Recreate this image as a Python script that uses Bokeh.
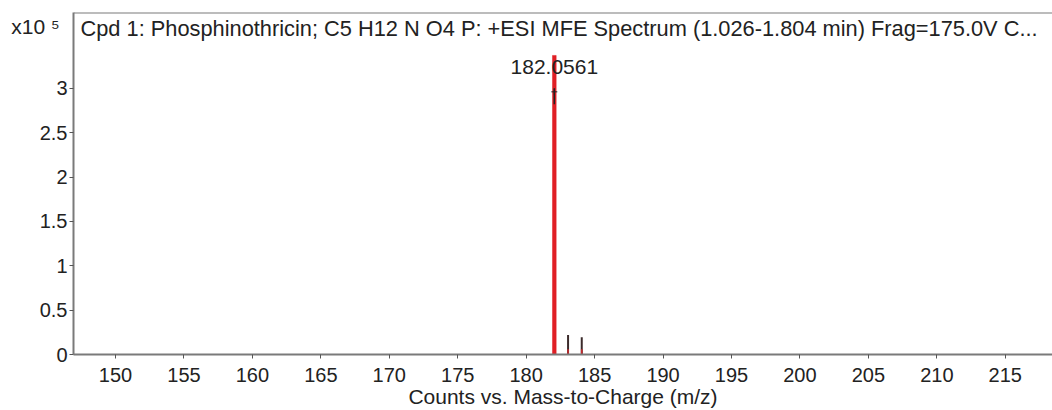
from bokeh.plotting import figure
from bokeh.models import Range1d, FixedTicker, Label, Span
from bokeh.embed import file_html
from bokeh.resources import INLINE

# data
obs_mz = [182.0561, 183.06, 184.06]
obs_counts = [335000, 22000, 19500]
pred_mz = [182.0561, 183.06, 184.06]
pred_counts = [337000, 6000, 6000]
peak_label = "182.0561"
title_text = "Cpd 1: Phosphinothricin; C5 H12 N O4 P: +ESI MFE Spectrum (1.026-1.804 min) Frag=175.0V C..."
x_label = "Counts vs. Mass-to-Charge (m/z)"
y_label = "x10 \u2075"
x_ticks = [150, 155, 160, 165, 170, 175, 180, 185, 190, 195, 200, 205, 210, 215]
y_ticks = [0, 50000, 100000, 150000, 200000, 250000, 300000]
y_tick_labels = ["0", "0.5", "1", "1.5", "2", "2.5", "3"]

FONT = "Liberation Sans"
TXT = "#222222"
AX = "#7a7a7a"

x0, x1 = 146.93, 218.45
y0, y1 = 0, 385400

p = figure(width=1052, height=410, output_backend="svg", toolbar_location=None,
           x_range=Range1d(x0, x1), y_range=Range1d(y0, y1),
           min_border_left=73, min_border_right=0, min_border_top=12, min_border_bottom=55)
p.outline_line_color = None
p.grid.visible = False
p.background_fill_color = "white"

# axes
p.xaxis.ticker = FixedTicker(ticks=x_ticks)
p.xaxis.minor_tick_line_color = None
p.xaxis.major_tick_in = 0
p.xaxis.major_tick_out = 4
p.xaxis.major_tick_line_color = "#555555"
p.xaxis.axis_line_color = AX
p.xaxis.axis_line_width = 2
p.xaxis.major_label_text_font = FONT
p.xaxis.major_label_text_font_size = "20px"
p.xaxis.major_label_text_color = TXT
p.xaxis.major_label_standoff = 9
p.xaxis.axis_label = x_label
p.xaxis.axis_label_text_font = FONT
p.xaxis.axis_label_text_font_size = "21px"
p.xaxis.axis_label_text_font_style = "normal"
p.xaxis.axis_label_text_color = TXT
p.xaxis.axis_label_standoff = 0

p.yaxis.ticker = FixedTicker(ticks=y_ticks)
p.yaxis.major_label_overrides = {t: l for t, l in zip(y_ticks, y_tick_labels)}
p.yaxis.minor_tick_line_color = None
p.yaxis.major_tick_in = 0
p.yaxis.major_tick_out = 4
p.yaxis.major_tick_line_color = "#555555"
p.yaxis.axis_line_color = AX
p.yaxis.axis_line_width = 2
p.yaxis.major_label_text_font = FONT
p.yaxis.major_label_text_font_size = "20px"
p.yaxis.major_label_text_color = TXT
p.yaxis.major_label_standoff = 2
p.yaxis.axis_label = "\n" + y_label
p.yaxis.axis_label_orientation = "horizontal"
p.yaxis.axis_label_align = "end"
p.yaxis.axis_label_standoff = -23
p.yaxis.axis_label_text_font = FONT
p.yaxis.axis_label_text_font_size = "21px"
p.yaxis.axis_label_text_font_style = "normal"
p.yaxis.axis_label_text_color = TXT

# top frame line
p.add_layout(Span(location=y1, dimension="width", line_color=AX, line_width=2))

# observed (dark) and predicted (red) peaks
p.segment(x0=obs_mz[1:], y0=[0, 0], x1=obs_mz[1:], y1=obs_counts[1:], line_color="#3b2b2b", line_width=2)
p.vbar(x=pred_mz[:1], top=pred_counts[:1], width=0.27, fill_color="#e01f25", line_color="#e01f25", line_width=0.5)
p.vbar(x=pred_mz[1:], top=pred_counts[1:], width=0.12, fill_color="#c8282c", line_color=None)
p.segment(x0=[obs_mz[0]], y0=[282000], x1=[obs_mz[0]], y1=[300000], line_color="#222222", line_width=1.5)
p.scatter(x=[obs_mz[0]], y=[296000], marker="cross", size=6, line_color="#222222", line_width=1)

p.add_layout(Label(x=obs_mz[0], y=pred_counts[0], text=peak_label, text_align="center",
                   text_baseline="middle", y_offset=-12, text_font=FONT, text_font_size="21px",
                   text_color=TXT))

p.add_layout(Label(x=x0, y=y1, x_offset=7, y_offset=-3, text=title_text, text_align="left",
                   text_baseline="top", text_font=FONT, text_font_size="21.8px", text_color=TXT))

open("out.html", "w").write(file_html(p, INLINE))
